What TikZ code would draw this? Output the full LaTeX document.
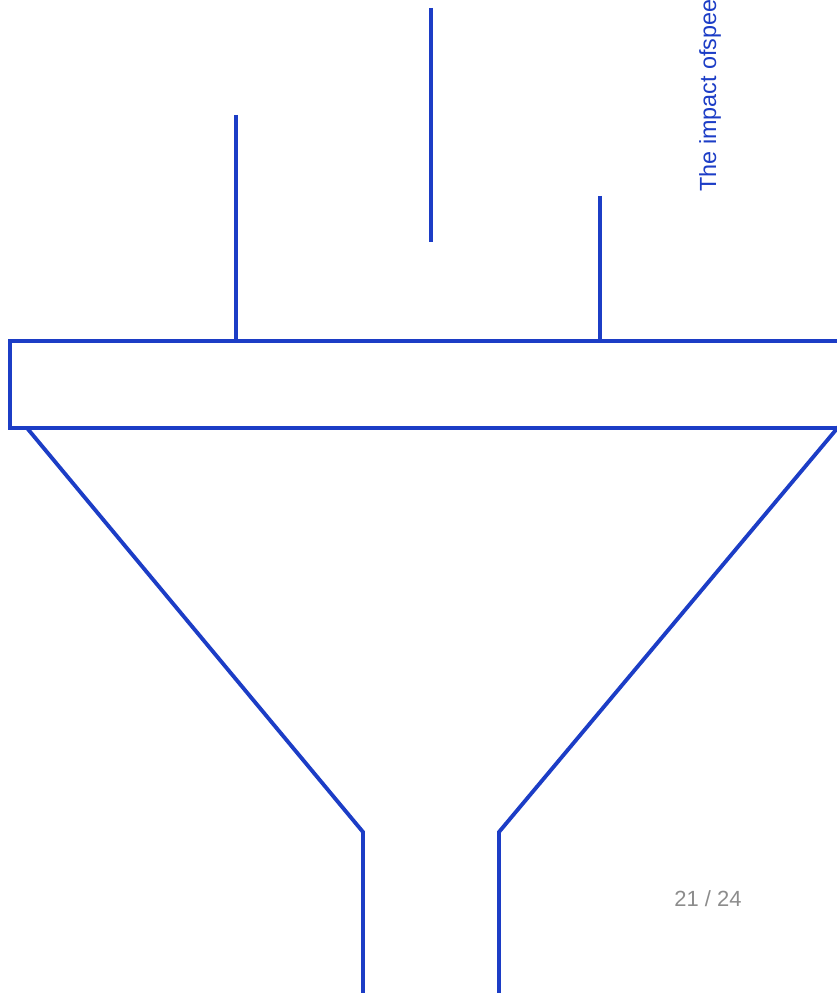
\documentclass[tikz,border=0pt]{standalone}
\usepackage{fontspec}
\setmainfont{Liberation Sans}
\usepackage{xcolor}
\usetikzlibrary{positioning}
\definecolor{fnBlue}{HTML}{1C3DC6}
\definecolor{fnGray}{HTML}{8C8C8C}

\begin{document}
\begin{tikzpicture}[
  x=0.02cm, y=-0.02cm,
  trazo/.style={draw=fnBlue, line width=2.2pt, line join=miter},
  rotulo/.style={fnBlue, font=\fontsize{13.3}{15}\selectfont, inner sep=0pt},
  pagina/.style={fnGray, font=\fontsize{12.5}{15}\selectfont, inner sep=0pt},
]
\useasboundingbox (0,0) rectangle (837,993);
\clip (0,0) rectangle (837,993);

% ---- Entradas ----
\draw[trazo] (236,115) -- (236,341);
\draw[trazo] (431,8)   -- (431,242);
\draw[trazo] (600,196) -- (600,341);

% ---- Borde del embudo ----
\draw[trazo] (860,341) -- (10,341) -- (10,428) -- (860,428);

% ---- Cuerpo del embudo ----
\draw[trazo] (27,428) -- (363,832) -- (363,1000);
\draw[trazo] (840,425) -- (499,832) -- (499,1000);

% ---- Etiquetas ----
\node[rotulo, rotate=90, anchor=base west] (titulo) at (716,192) {The impact ofspeed};
\node[pagina, anchor=base] (numero) at (708,906) {21 / 24};

\end{tikzpicture}
\end{document}
